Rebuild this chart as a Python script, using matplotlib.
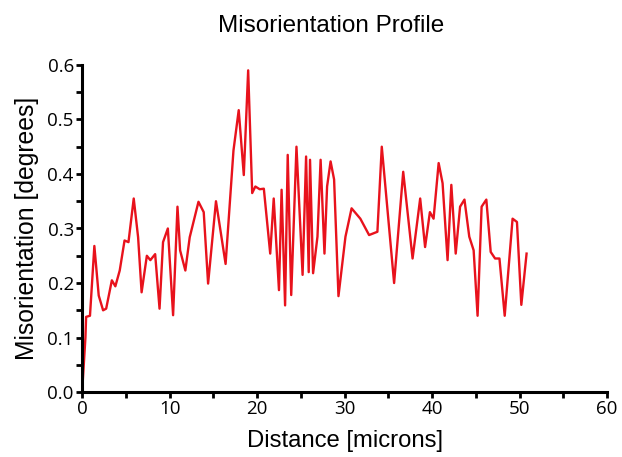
import matplotlib
matplotlib.use("Agg")
import matplotlib.pyplot as plt
from matplotlib.ticker import MultipleLocator

# distance along the profile [microns] and misorientation [degrees]
distance = [0.0, 0.38, 0.46, 0.9, 1.4, 1.9, 2.4, 2.75, 3.4, 3.8, 4.3, 4.85, 5.3, 5.9,
            6.4, 6.8, 7.4, 7.8, 8.35, 8.85, 9.25, 9.8, 10.4, 10.9, 11.2, 11.8, 12.3,
            13.3, 13.9, 14.4, 15.3, 16.4, 17.3, 17.9, 18.48, 18.98, 19.44, 19.8, 20.3,
            20.77, 21.5, 21.9, 22.5, 22.8, 23.2, 23.5, 23.9, 24.5, 25.2, 25.6, 25.9,
            26.05, 26.4, 26.9, 27.26, 27.7, 28.0, 28.4, 28.8, 29.3, 30.1, 30.8, 31.8,
            32.8, 33.75, 34.25, 35.66, 36.7, 37.77, 38.64, 39.2, 39.75, 40.17, 40.75,
            41.2, 41.77, 42.2, 42.7, 43.2, 43.7, 44.25, 44.75, 45.2, 45.66, 46.2, 46.7,
            47.2, 47.7, 48.3, 49.2, 49.7, 50.2, 50.8]
misorientation = [0.0, 0.10, 0.138, 0.14, 0.268, 0.177, 0.15, 0.153, 0.205, 0.194,
                  0.223, 0.278, 0.275, 0.355, 0.284, 0.183, 0.25, 0.242, 0.253, 0.153,
                  0.275, 0.30, 0.141, 0.34, 0.26, 0.223, 0.284, 0.349, 0.33, 0.199,
                  0.35, 0.235, 0.443, 0.517, 0.398, 0.59, 0.365, 0.377, 0.372, 0.373,
                  0.254, 0.355, 0.187, 0.371, 0.159, 0.435, 0.178, 0.45, 0.215, 0.432,
                  0.22, 0.426, 0.218, 0.285, 0.426, 0.254, 0.377, 0.423, 0.39, 0.176,
                  0.285, 0.337, 0.318, 0.288, 0.294, 0.45, 0.2, 0.404, 0.245, 0.355,
                  0.266, 0.33, 0.318, 0.42, 0.383, 0.242, 0.38, 0.254, 0.34, 0.353,
                  0.285, 0.26, 0.14, 0.34, 0.353, 0.257, 0.245, 0.245, 0.14, 0.318,
                  0.312, 0.16, 0.254]

fig = plt.figure(figsize=(6.22, 4.57), dpi=100)
ax = fig.add_axes([0.132, 0.142, 0.844, 0.716])

ax.plot(distance, misorientation, color="#e8121c", linewidth=1.7)

ax.set_xlim(0, 60)
ax.set_ylim(0, 0.6)
ax.xaxis.set_major_locator(MultipleLocator(10))
ax.xaxis.set_minor_locator(MultipleLocator(5))
ax.yaxis.set_major_locator(MultipleLocator(0.1))
ax.yaxis.set_minor_locator(MultipleLocator(0.05))
ax.yaxis.set_major_formatter(plt.FormatStrFormatter("%.1f"))

for side in ["top", "right"]:
    ax.spines[side].set_visible(False)
for side in ["left", "bottom"]:
    ax.spines[side].set_linewidth(2.2)

ax.tick_params(which="both", direction="out", width=2, length=4, pad=2)
for lbl in ax.get_xticklabels() + ax.get_yticklabels():
    lbl.set_fontfamily("Open Sans")
    lbl.set_fontsize(13.5)

ax.set_xlabel("Distance [microns]", fontsize=17.2, family="Liberation Sans", labelpad=8)
ax.set_ylabel("Misorientation [degrees]", fontsize=17.8, family="Liberation Sans", labelpad=6)
fig.text(0.532, 0.930, "Misorientation Profile", fontsize=17.5, family="Liberation Sans",
         ha="center", va="baseline")

fig.savefig("out.png", dpi=100)
